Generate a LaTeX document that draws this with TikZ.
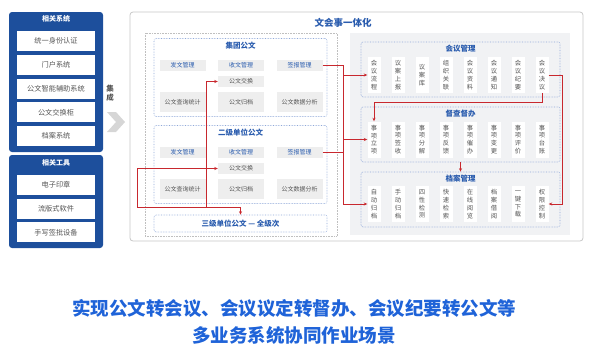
\documentclass[tikz,border=0pt]{standalone}
\usepackage{fontspec}
\setmainfont{Noto Sans CJK SC}
\usetikzlibrary{arrows.meta, positioning}
\definecolor{panelblue}{HTML}{1D4F9C}
\definecolor{titleblue}{HTML}{2A5CAE}
\definecolor{capblue}{HTML}{1F63D8}
\definecolor{boxgrey}{HTML}{EEEEEE}
\definecolor{panelgrey}{HTML}{F1F2F4}
\definecolor{dotblue}{HTML}{8FA8D8}
\definecolor{txtgrey}{HTML}{555555}
\definecolor{linered}{HTML}{C8282E}
\definecolor{chevgrey}{HTML}{D6D6D6}
\tikzset{
  bluepanel/.style={fill=panelblue, rounded corners=3pt, minimum width=94pt},
  paneltitle/.style={text=white, font=\bfseries\fontsize{7}{8}\selectfont},
  sysitem/.style={fill=white, minimum width=78pt, minimum height=20pt, inner sep=0pt,
    font=\fontsize{7.2}{8}\selectfont, text=txtgrey},
  dotbox/.style={draw=dotblue, densely dotted, line width=0.6pt, rounded corners=2pt},
  docitem/.style={fill=boxgrey, minimum width=46pt, minimum height=20pt, inner sep=0pt,
    font=\fontsize{6}{7}\selectfont, text=txtgrey},
  docblue/.style={docitem, minimum height=11pt, text=titleblue},
  vitem/.style={fill=white, minimum width=13pt, minimum height=36pt, inner sep=0pt,
    align=center, font=\fontsize{6.3}{7.8}\selectfont, text=txtgrey},
  secttitle/.style={text=titleblue, font=\bfseries\fontsize{7.5}{8}\selectfont},
  redline/.style={draw=linered, line width=0.7pt}
}
\begin{document}
\begin{tikzpicture}[x=1pt, y=-1pt, >={Stealth[length=3.5pt,width=3pt]}]
  \useasboundingbox (0,0) rectangle (600,360);
  % left panels
  \node[bluepanel, minimum height=140pt] (sys) at (56,82) {};
  \node[paneltitle] (systitle) at (56,19) {相关系统};
  \foreach \t [count=\i] in {统一身份认证,门户系统,公文智能辅助系统,公文交换柜,档案系统}
    \node[sysitem] (sys\i) at (56,{41+(\i-1)*23.8}) {\t};
  \node[bluepanel, minimum height=93pt] (tool) at (56,201.5) {};
  \node[paneltitle] (tooltitle) at (56,163) {相关工具};
  \foreach \t [count=\i] in {电子印章,流版式软件,手写签批设备}
    \node[sysitem] (tool\i) at (56,{185+(\i-1)*23.7}) {\t};
  \node[font=\bfseries\fontsize{7.5}{9}\selectfont, text=txtgrey, align=center] (jc) at (110,93) {集\\成};
  \fill[chevgrey] (107,112) -- (116,112) -- (125,122) -- (116,132) -- (107,132) -- (116,122) -- cycle;
  % main frame
  \draw[draw=black!22, line width=0.8pt, rounded corners=3pt] (130,12) rectangle (583,241);
  \node[font=\bfseries\fontsize{9.5}{10}\selectfont, text=titleblue] (main) at (343,23) {文会事一体化};
  % official documents
  \draw[draw=black!25, densely dotted, line width=0.6pt] (145,33) rectangle (337,236);
  \foreach \lv/\y/\ttl in {1/0/集团公文, 2/87/二级单位公文}{
    \node[dotbox, minimum width=173pt, minimum height=78pt] (lv\lv) at (240.5,{77.5+\y}) {};
    \node[secttitle] (lvt\lv) at (240.5,{46+\y}) {\ttl};
    \foreach \t/\n [count=\i] in {发文管理/fw, 收文管理/sw, 签报管理/qb}
      \node[docblue] (\n\lv) at ({124+\i*58.5},{65.5+\y}) {\t};
    \node[docitem, minimum height=11pt] (gj\lv) at (241,{81.5+\y}) {公文交换};
    \foreach \t/\n [count=\i] in {公文查询统计/cx, 公文归档/gd, 公文数据分析/fx}
      \node[docitem] (\n\lv) at ({124+\i*58.5},{102+\y}) {\t};
  }
  \node[dotbox, minimum width=173pt, minimum height=17pt, secttitle] (sj) at (240.5,223.5) {三级单位公文 — 全级次};
  % meetings, supervision, archives
  \fill[panelgrey] (350,33) rectangle (570,235);
  \node[dotbox, minimum width=199pt, minimum height=55pt] (hyframe) at (460.5,69.5) {};
  \node[secttitle] (hyt) at (460.5,49) {会议管理};
  \foreach \t [count=\i] in {{会\\议\\流\\程},{议\\案\\上\\报},{议\\案\\库},{组\\织\\关\\联},
      {会\\议\\资\\料},{会\\议\\通\\知},{会\\议\\纪\\要},{会\\议\\决\\议}}
    \node[vitem] (hy\i) at ({350+\i*24},75) {\t};
  \node[dotbox, minimum width=199pt, minimum height=55pt] (dbframe) at (460.5,134.5) {};
  \node[secttitle] (dbt) at (460.5,114) {督查督办};
  \foreach \t [count=\i] in {{事\\项\\立\\项},{事\\项\\签\\收},{事\\项\\分\\解},{事\\项\\反\\馈},
      {事\\项\\催\\办},{事\\项\\变\\更},{事\\项\\评\\价},{事\\项\\台\\账}}
    \node[vitem] (db\i) at ({350+\i*24},139.5) {\t};
  \node[dotbox, minimum width=199pt, minimum height=55pt] (daframe) at (460.5,199.5) {};
  \node[secttitle] (dat) at (460.5,179) {档案管理};
  \foreach \t [count=\i] in {{自\\动\\归\\档},{手\\动\\归\\档},{四\\性\\检\\测},{快\\速\\检\\索},
      {在\\线\\阅\\览},{档\\案\\借\\阅},{一\\键\\下\\载},{权\\限\\控\\制}}
    \node[vitem] (da\i) at ({350+\i*24},204) {\t};
  % connectors
  \coordinate (bus) at (343,65.5);
  \draw[redline] (qb1.east) -- (bus) -- (bus |- da1.west);
  \draw[redline] (qb2.east) -- (qb2.east -| bus);
  \foreach \n in {hy1, db1, da1}
    \draw[redline,->] (bus |- \n.west) -- (\n.west);
  \draw[redline,->] (hy8.east) -- ++(14,0) |- (da8.east);
  \coordinate (gapa) at (0,102);
  \draw[redline,->] (hy8.south) -- (hy8.south |- gapa) -| (db1.north);
  \draw[redline,->] (dbframe.south) -- (daframe.north);
  \coordinate (lc) at (137,207);
  \coordinate (lt) at (206,207);
  \draw[redline,->] (lt) |- (gj1.west);
  \draw[redline,->] (lc) -| (sj.north);
  \draw[redline,->] (lc) |- (gj2.west);
  % caption
  \node[font=\bfseries\fontsize{18.5}{27}\selectfont, text=capblue, align=center] (cap) at (294,322)
    {实现公文转会议、会议议定转督办、会议纪要转公文等\\多业务系统协同作业场景};
\end{tikzpicture}
\end{document}
